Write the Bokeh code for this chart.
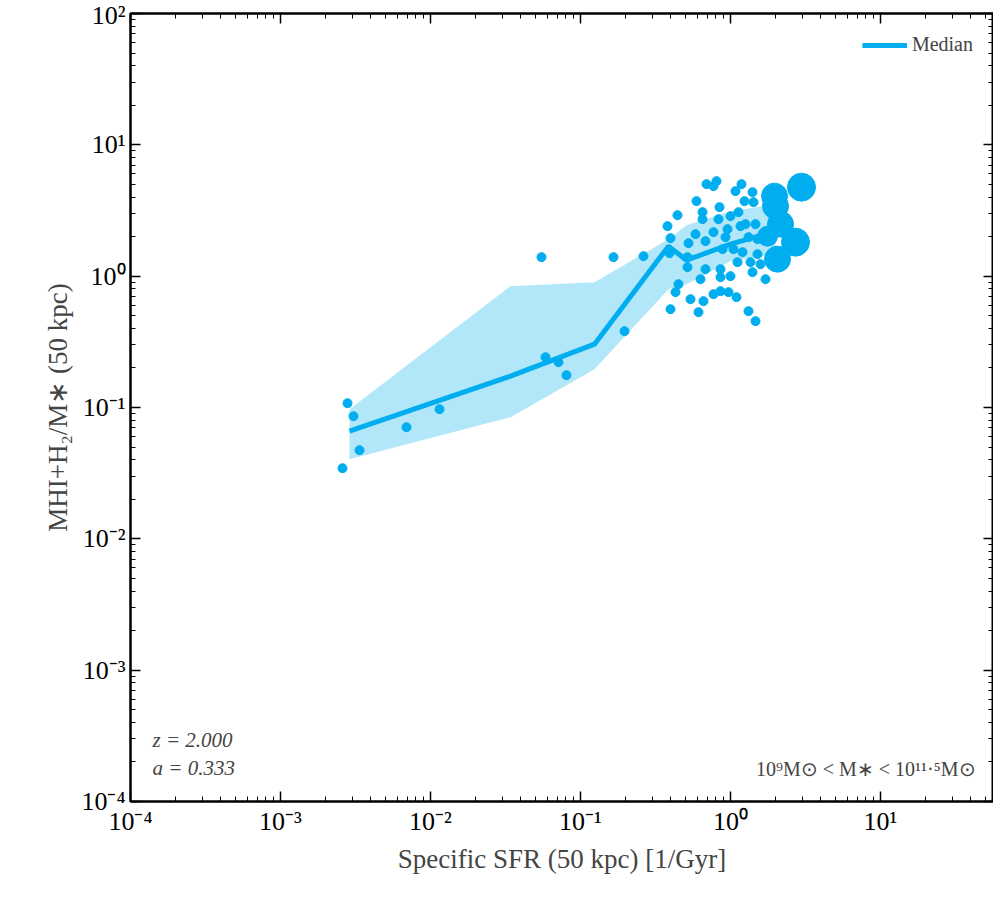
import numpy as np
from bokeh.plotting import figure
from bokeh.models import LogAxis, Legend, LegendItem, Label, Range1d, LogTicker
from bokeh.embed import file_html
from bokeh.resources import INLINE

def px2x(p): return 10 ** ((p - 730) / 150.0)
def px2y(p): return 10 ** ((277 - p) / 131.3)

# median line (read in log space)
med_x = [px2x(v) for v in [349, 510, 594, 668, 686, 730, 775]]
med_y = [px2y(v) for v in [432, 377, 345, 247, 261, 245, 232]]
band_x = med_x
band_hi = [px2y(v) for v in [410, 287, 283, 240, 226, 212, 205]]
band_lo = [px2y(v) for v in [460, 418, 370, 290, 285, 262, 255]]

pts_px = [(342,469),(347,404),(353,417),(359,451),(406,428),(439,410),(541,258),(545,358),(558,363),(566,376),
(613,258),(624,332),(643,257),(669,254),
(706,185),(716,182),(713,187),(741,185),(735,192),(752,193),(696,202),(677,216),(667,227),(670,239),(688,244),
(702,213),(702,220),(719,208),(718,220),(730,217),(738,213),(744,202),(753,203),(695,235),(705,242),(713,233),
(725,238),(722,250),(733,250),(742,253),(687,258),(687,268),(705,270),(700,280),(720,270),(720,278),(730,277),
(737,263),(750,263),(752,273),(760,265),(765,280),(678,285),(675,293),(690,300),(703,302),(713,295),(720,292),
(728,293),(736,298),(670,310),(698,313),(748,312),(755,322),(745,225),(755,225),(748,238),(757,240),(740,227),
(727,230),(757,255)]
sc_x = [px2x(a) for a, b in pts_px]
sc_y = [px2y(b) for a, b in pts_px]
big_px = [(801,188,28),(774,197,26),(775,207,26),(780,225,26),(795,243,28),(777,260,26),(767,237,20)]
big_x = [px2x(a) for a, b, s in big_px]
big_y = [px2y(b) for a, b, s in big_px]
big_s = [s for a, b, s in big_px]

FONT = "Liberation Serif"
C = "#00AEEF"
sup = str.maketrans("-0123456789", "⁻⁰¹²³⁴⁵⁶⁷⁸⁹")

xmax = 10 ** (863 / 150.0 - 4)
p = figure(width=993, height=893, x_axis_type="log", y_axis_type="log",
           x_range=Range1d(1e-4, xmax), y_range=Range1d(1e-4, 1e2),
           output_backend="svg", toolbar_location=None,
           min_border_left=130, min_border_right=0, min_border_top=13, min_border_bottom=92)
p.grid.visible = False
p.outline_line_color = "black"
p.outline_line_width = 2

p.varea(x=band_x, y1=band_lo, y2=band_hi, fill_color=C, fill_alpha=0.3)
r = p.line(med_x, med_y, line_color=C, line_width=5)
p.scatter(sc_x, sc_y, size=9, color=C)
p.scatter(big_x, big_y, size=big_s, color=C)

xt = [1e-4, 1e-3, 1e-2, 1e-1, 1e0, 1e1]
yt = [1e-4, 1e-3, 1e-2, 1e-1, 1e0, 1e1, 1e2]
p.xaxis.ticker = LogTicker(num_minor_ticks=10)
p.yaxis.ticker = LogTicker(num_minor_ticks=10)
p.xaxis.major_label_overrides = {v: "10" + str(int(round(np.log10(v)))).translate(sup) for v in xt}
p.yaxis.major_label_overrides = {v: "10" + str(int(round(np.log10(v)))).translate(sup) for v in yt}
p.xaxis.axis_label = "Specific SFR (50 kpc) [1/Gyr]"
p.yaxis.axis_label = "MHI+H₂/M∗ (50 kpc)"

p.add_layout(LogAxis(ticker=LogTicker(num_minor_ticks=10), major_label_text_alpha=0), "right")
p.add_layout(LogAxis(ticker=LogTicker(num_minor_ticks=10), major_label_text_alpha=0), "above")
for ax in p.axis:
    ax.major_tick_in = 10
    ax.major_tick_out = 0
    ax.minor_tick_in = 5
    ax.minor_tick_out = 0
    ax.axis_line_width = 2
    ax.major_tick_line_width = 1.5
    ax.major_label_text_font = FONT
    ax.major_label_text_font_size = "26px"
    ax.axis_label_text_font = FONT
    ax.axis_label_text_font_size = "27px"
    ax.axis_label_text_font_style = "normal"
    ax.major_label_text_color = "black"
for ax in p.above + p.right:
    ax.major_label_text_font_size = "1px"

leg = Legend(items=[LegendItem(label="Median", renderers=[r])], location="top_right",
             border_line_alpha=0, background_fill_alpha=0, label_text_font=FONT,
             label_text_font_size="20px", glyph_width=45)
p.add_layout(leg)

p.add_layout(Label(x=22, y=50, x_units="screen", y_units="screen", text="z = 2.000",
                   text_font=FONT, text_font_size="21px", text_font_style="italic"))
p.add_layout(Label(x=22, y=22, x_units="screen", y_units="screen", text="a = 0.333",
                   text_font=FONT, text_font_size="21px", text_font_style="italic"))
p.add_layout(Label(x=845, y=22, x_units="screen", y_units="screen", text_align="right",
                   text="10⁹M⊙ < M∗ < 10¹¹·⁵M⊙", text_font=FONT, text_font_size="20px"))

open("out.html", "w").write(file_html(p, INLINE))
